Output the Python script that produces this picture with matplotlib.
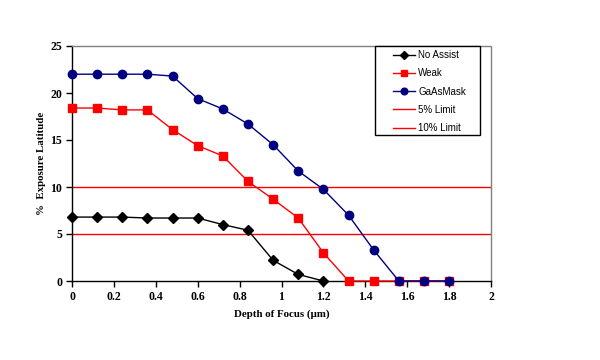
import matplotlib
matplotlib.use("Agg")
import matplotlib.pyplot as plt
from matplotlib.font_manager import FontProperties
from matplotlib.patches import Rectangle

# --- data ---
depth = [0, 0.12, 0.24, 0.36, 0.48, 0.6, 0.72, 0.84, 0.96, 1.08, 1.2,
         1.32, 1.44, 1.56, 1.68, 1.8]
no_assist = [6.8, 6.8, 6.8, 6.7, 6.7, 6.7, 6.0, 5.4, 2.2, 0.7, 0.0]
weak = [18.4, 18.4, 18.2, 18.2, 16.1, 14.4, 13.3, 10.6, 8.7, 6.7, 3.0,
        0.0, 0.0, 0.0, 0.0, 0.0]
gaas_mask = [22.0, 22.0, 22.0, 22.0, 21.8, 19.4, 18.3, 16.7, 14.5, 11.7, 9.75,
             7.0, 3.3, 0.0, 0.0, 0.0]
limits = [5, 10]
limit_labels = ["5% Limit", "10% Limit"]

serif = {"family": "Liberation Serif", "weight": "bold", "size": 8.5}
label_font = {"family": "Liberation Serif", "weight": "bold", "size": 7.8}
W, H = 600, 360

fig = plt.figure(figsize=(6, 3.6), dpi=100)
ax = fig.add_axes([72 / W, 1 - 281 / H, (491 - 72) / W, (281 - 46) / H])

# --- series ---
ax.plot(depth[:len(no_assist)], no_assist, color="black", lw=1,
        marker="D", ms=5, mfc="black", mec="black", clip_on=False,
        label="No Assist", zorder=5)
ax.plot(depth, weak, color="#ff0000", lw=1, marker="s", ms=6,
        mfc="#ff0000", mec="#ff0000", clip_on=False, label="Weak", zorder=4)
ax.plot(depth, gaas_mask, color="#000080", lw=1, marker="o", ms=6,
        mfc="#000080", mec="#000080", clip_on=False, label="GaAsMask",
        zorder=6)
for v, lab in zip(limits, limit_labels):
    ax.axhline(v, color="#ff0000", lw=1, label=lab, zorder=2)

# --- axes ---
ax.set_xlim(0, 2)
ax.set_ylim(0, 25)
ax.set_xticks([0, 0.2, 0.4, 0.6, 0.8, 1, 1.2, 1.4, 1.6, 1.8, 2])
ax.set_xticklabels(["0", "0.2", "0.4", "0.6", "0.8", "1", "1.2", "1.4",
                    "1.6", "1.8", "2"])
ax.set_yticks([0, 5, 10, 15, 20, 25])
ax.tick_params(direction="out", length=4, width=1, color="black", pad=3)
for t in ax.get_xticklabels() + ax.get_yticklabels():
    t.set_fontproperties(FontProperties(**serif))

for s in ("top", "right"):
    ax.spines[s].set_color("#808080")
    ax.spines[s].set_linestyle((0, (1, 1)))
    ax.spines[s].set_linewidth(1)
for s in ("left", "bottom"):
    ax.spines[s].set_color("black")
    ax.spines[s].set_linewidth(1)

ax.set_xlabel("Depth of Focus (\u00b5m)", fontdict=label_font)
ax.set_ylabel("%  Exposure Latitude", fontdict=label_font)
ax.xaxis.set_label_coords(0.5, (281 - 309) / 235)
ax.yaxis.set_label_coords((46 - 72) / 419, 0.5)

# legend box drawn by hand so its padding matches the original
box = Rectangle((375 / W, 1 - 135 / H), (480 - 375) / W, (135 - 46) / H,
                transform=fig.transFigure, facecolor="white",
                edgecolor="black", lw=1, zorder=8, clip_on=False)
ax.add_patch(box)
leg = ax.legend(loc="upper left", bbox_to_anchor=(393 / W, 1 - 50 / H),
                bbox_transform=fig.transFigure, frameon=False,
                prop={"family": "Liberation Sans", "size": 7},
                handlelength=2.3, handletextpad=0.3, labelspacing=0.85,
                borderpad=0, borderaxespad=0, markerscale=0.8)
leg.set_zorder(9)

fig.savefig("out.png", dpi=100)
